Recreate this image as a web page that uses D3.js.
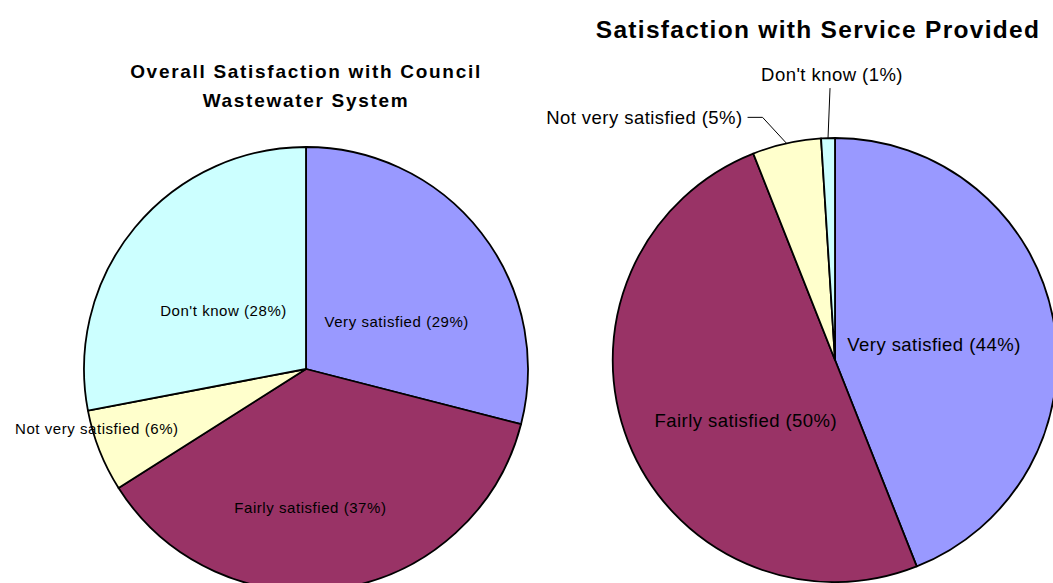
<!DOCTYPE html>
<html>
<head>
<meta charset="utf-8">
<script src="https://cdn.jsdelivr.net/npm/d3@7"></script>
<style>
  html, body { margin: 0; padding: 0; background: #fff; }
  svg { display: block; }
  text { font-family: "Liberation Sans", Arial, sans-serif; fill: #000; }
</style>
</head>
<body>
<svg id="chart" width="1053" height="583"></svg>
<script>
// Survey categories and the share of respondents in each
const categories = ["Very satisfied", "Fairly satisfied", "Not very satisfied", "Don't know"];
const wastewaterValues = [29, 37, 6, 28];
const serviceValues = [44, 50, 5, 1];
const wastewaterTitle = ["Overall Satisfaction with Council", "Wastewater System"];
const serviceTitle = ["Satisfaction with Service Provided"];

const sliceColors = ["#9999ff", "#993366", "#ffffcc", "#ccffff"];

const svg = d3.select("#chart");

const color = d3.scaleOrdinal().domain(categories).range(sliceColors);

function drawPie(opts) {
  const data = categories.map((c, i) => ({ category: c, value: opts.values[i] }));
  const pie = d3.pie().sort(null).value(d => d.value);
  const arcs = pie(data);
  const arc = d3.arc().innerRadius(0).outerRadius(opts.radius);
  const mid = d3.arc().innerRadius(opts.radius * 0.5).outerRadius(opts.radius * 0.5);
  const edge = d3.arc().innerRadius(opts.radius).outerRadius(opts.radius);

  const g = svg.append("g").attr("transform", `translate(${opts.cx},${opts.cy})`);

  g.selectAll("path.slice")
    .data(arcs)
    .join("path")
    .attr("class", "slice")
    .attr("d", arc)
    .attr("fill", d => color(d.data.category))
    .attr("stroke", "#000")
    .attr("stroke-width", 1.8)
    .attr("stroke-linejoin", "round");

  arcs.forEach((a, i) => {
    const lay = opts.labels[i];
    const text = `${a.data.category} (${a.data.value}%)`;
    if (lay.type === "inside") {
      const [x, y] = mid.centroid(a);
      g.append("text")
        .attr("x", x + lay.dx)
        .attr("y", y + lay.dy)
        .attr("text-anchor", "middle")
        .attr("dominant-baseline", "central")
        .style("font-size", opts.labelSize + "px")
        .style("letter-spacing", opts.labelSpacing + "px")
        .text(text);
    } else {
      // outside label joined to the slice edge by a leader line
      const [ex, ey] = edge.centroid(a);
      const bx = ex + lay.bend[0], by = ey + lay.bend[1];
      const tx = bx + lay.tail[0], ty = by + lay.tail[1];
      g.append("path")
        .attr("d", d3.line()([[ex, ey], [bx, by], [tx, ty]]))
        .attr("fill", "none")
        .attr("stroke", "#000")
        .attr("stroke-width", 1);
      g.append("text")
        .attr("x", tx + lay.tdx)
        .attr("y", ty + lay.tdy)
        .attr("text-anchor", lay.anchor)
        .attr("dominant-baseline", "central")
        .style("font-size", opts.labelSize + "px")
        .style("letter-spacing", opts.labelSpacing + "px")
        .text(text);
    }
  });

  svg.append("g")
    .selectAll("text")
    .data(opts.title)
    .join("text")
    .attr("x", opts.titleX)
    .attr("y", (d, i) => opts.titleY + i * opts.titleLead)
    .attr("text-anchor", "middle")
    .attr("dominant-baseline", "central")
    .style("font-size", opts.titleSize + "px")
    .style("font-weight", "bold")
    .style("letter-spacing", opts.titleSpacing + "px")
    .text(d => d);
}

drawPie({
  values: wastewaterValues,
  cx: 306, cy: 369, radius: 222,
  title: wastewaterTitle, titleX: 306, titleY: 71, titleLead: 29.5,
  titleSize: 19, titleSpacing: 1.7,
  labelSize: 15, labelSpacing: 0.55,
  labels: [
    { type: "inside", dx: 3, dy: 21 },
    { type: "inside", dx: -13, dy: 29 },
    { type: "inside", dx: -106, dy: 19 },
    { type: "inside", dx: 3, dy: 12 }
  ]
});

drawPie({
  values: serviceValues,
  cx: 835, cy: 360, radius: 222,
  title: serviceTitle, titleX: 818, titleY: 29, titleLead: 0,
  titleSize: 24.5, titleSpacing: 1.3,
  labelSize: 18.5, labelSpacing: 0.45,
  labels: [
    { type: "inside", dx: -10, dy: 5 },
    { type: "inside", dx: 14, dy: 20 },
    { type: "outside", bend: [-24, -26], tail: [-15, 0], tdx: -5, tdy: 0, anchor: "end" },
    { type: "outside", bend: [2, -50], tail: [0, 0], tdx: 2, tdy: -14, anchor: "middle" }
  ]
});
</script>
</body>
</html>
